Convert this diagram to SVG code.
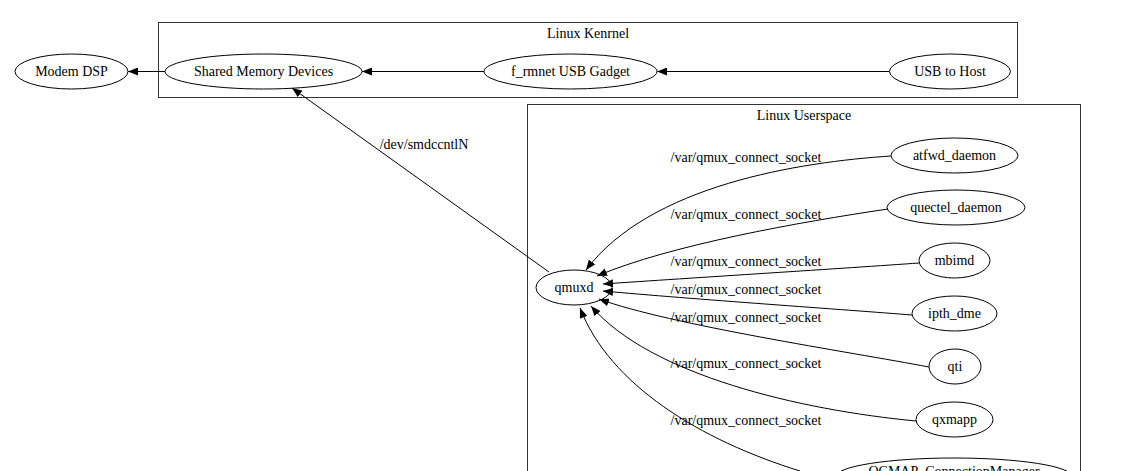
<svg xmlns="http://www.w3.org/2000/svg" width="1137" height="471" viewBox="0 0 1137 471">
<defs>
<marker id="arr" viewBox="0 0 10 8" refX="10" refY="4" markerWidth="10" markerHeight="8" markerUnits="userSpaceOnUse" orient="auto">
<path d="M0,0 L10,4 L0,8 Z" fill="#000"/>
</marker>
<style>
text{font-family:"Liberation Serif","Times New Roman",serif;font-size:14px;fill:#000;text-anchor:middle}
.node ellipse{fill:none;stroke:#000;stroke-width:1}
.cluster rect{fill:none;stroke:#333;stroke-width:1}
.edges path{fill:none;stroke:#000;stroke-width:1;marker-end:url(#arr)}
</style>
</defs>
<rect width="1137" height="471" fill="#fff"/>
<g id="cluster_kernel" class="cluster">
<rect x="158.5" y="22.5" width="859" height="75"/>
<text x="588" y="38">Linux Kenrnel</text>
</g>
<g id="cluster_userspace" class="cluster">
<rect x="527.5" y="104.5" width="553" height="400"/>
<text x="804" y="120">Linux Userspace</text>
</g>
<g id="modem_dsp" class="node"><ellipse cx="71.5" cy="71.5" rx="56.5" ry="17.5"/><text x="71.5" y="76">Modem DSP</text></g>
<g id="shared_memory" class="node"><ellipse cx="263.5" cy="71.5" rx="98.5" ry="17.5"/><text x="263.5" y="76">Shared Memory Devices</text></g>
<g id="f_rmnet" class="node"><ellipse cx="570.5" cy="71.5" rx="86.5" ry="17.5"/><text x="570.5" y="76">f_rmnet USB Gadget</text></g>
<g id="usb_to_host" class="node"><ellipse cx="950" cy="71.5" rx="60.5" ry="17.5"/><text x="950" y="76">USB to Host</text></g>
<g id="qmuxd" class="node"><ellipse cx="574" cy="287.5" rx="38" ry="17.5"/><text x="574" y="292">qmuxd</text></g>
<g id="atfwd_daemon" class="node"><ellipse cx="954.5" cy="155.5" rx="63.5" ry="17.5"/><text x="954.5" y="160">atfwd_daemon</text></g>
<g id="quectel_daemon" class="node"><ellipse cx="956" cy="207.5" rx="69" ry="17.5"/><text x="956" y="212">quectel_daemon</text></g>
<g id="mbimd" class="node"><ellipse cx="954.5" cy="260.5" rx="35.5" ry="17.5"/><text x="954.5" y="265">mbimd</text></g>
<g id="ipth_dme" class="node"><ellipse cx="954.5" cy="313.5" rx="42.5" ry="17.5"/><text x="954.5" y="318">ipth_dme</text></g>
<g id="qti" class="node"><ellipse cx="955" cy="366.5" rx="26" ry="17.5"/><text x="955" y="371">qti</text></g>
<g id="qxmapp" class="node"><ellipse cx="954.5" cy="419.5" rx="38.5" ry="17.5"/><text x="954.5" y="424">qxmapp</text></g>
<g id="qcmap" class="node"><ellipse cx="954" cy="476.5" rx="118" ry="18.5"/><text x="954" y="476">QCMAP_ConnectionManager</text></g>
<g id="connectors" class="edges">
<path d="M889,71.5 L657,71.5"/>
<path d="M484,71.5 L362,71.5"/>
<path d="M165,71.5 L128,71.5"/>
<path d="M549,272 L292,88"/>
<path d="M891,156 C800,162 650,185 586,270"/>
<path d="M888,209 C800,222 670,245 597,276"/>
<path d="M919,263 C850,268 690,278 603,284"/>
<path d="M912,315 C850,310 690,299 603,291"/>
<path d="M929,367 C850,352 670,325 599,299"/>
<path d="M916,421 C800,410 650,375 591,306"/>
<path d="M800,471 C700,440 610,385 580,308"/>
</g>
<g id="edge_labels">
<text x="424" y="149">/dev/smdccntlN</text>
<text x="746" y="162">/var/qmux_connect_socket</text>
<text x="746" y="219">/var/qmux_connect_socket</text>
<text x="746" y="266">/var/qmux_connect_socket</text>
<text x="746" y="294">/var/qmux_connect_socket</text>
<text x="746" y="322">/var/qmux_connect_socket</text>
<text x="746" y="368">/var/qmux_connect_socket</text>
<text x="746" y="425">/var/qmux_connect_socket</text>
</g>
</svg>
